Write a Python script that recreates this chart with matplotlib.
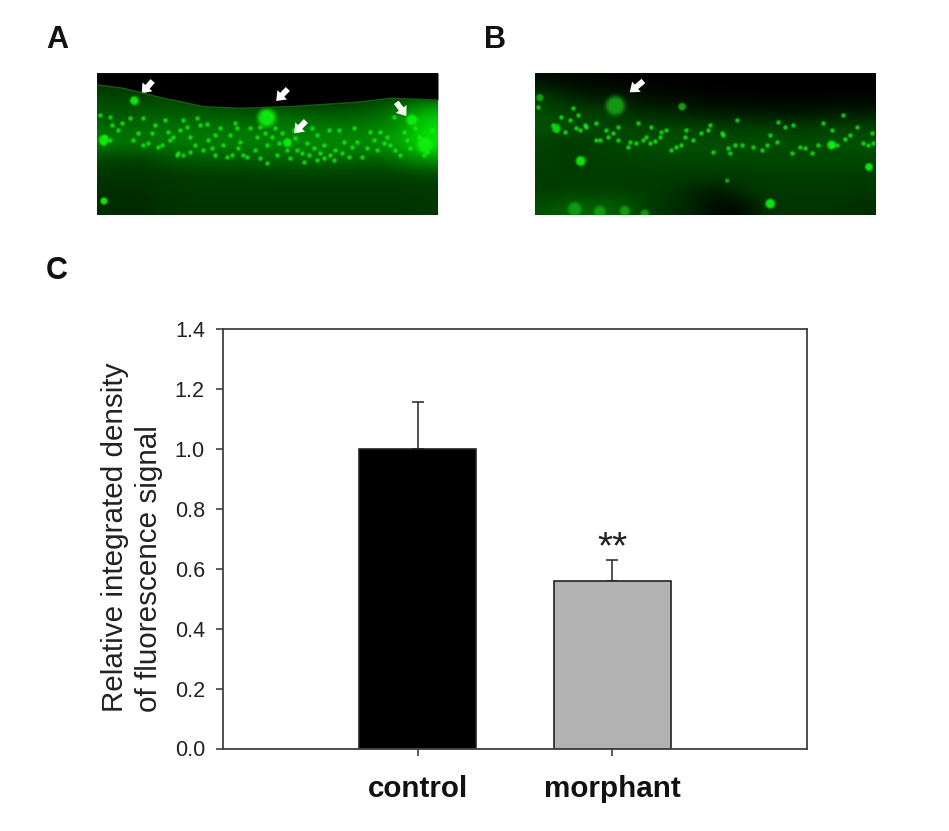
import numpy as np
from matplotlib import pyplot as plt
from matplotlib.colors import LinearSegmentedColormap
from matplotlib.patches import FancyArrow

plt.rcParams["font.family"] = ["Liberation Sans", "DejaVu Sans"]

# bar chart values
groups = ["control", "morphant"]
means = [1.0, 0.558]
errors = [0.157, 0.071]
bar_colors = ["black", "#b2b2b2"]
y_ticks = [0.0, 0.2, 0.4, 0.6, 0.8, 1.0, 1.2, 1.4]

# micrograph A, coarse green level per region
grid_a = [
    [45, 40, 30, 10, 0, 0, 0, 0, 0, 0, 0, 0, 0, 0],
    [70, 70, 70, 65, 55, 45, 35, 40, 40, 40, 45, 60, 70, 80],
    [85, 85, 90, 90, 90, 90, 75, 110, 90, 85, 90, 105, 130, 190],
    [105, 105, 115, 115, 115, 115, 115, 125, 125, 125, 120, 130, 150, 225],
    [130, 115, 125, 125, 125, 130, 130, 130, 140, 140, 140, 145, 175, 235],
    [60, 55, 70, 85, 90, 90, 90, 100, 100, 105, 100, 90, 115, 145],
    [55, 55, 55, 58, 58, 58, 58, 60, 60, 60, 60, 60, 60, 65],
    [45, 42, 50, 55, 55, 55, 55, 55, 55, 55, 55, 55, 55, 58],
    [45, 40, 48, 50, 50, 50, 50, 50, 50, 50, 50, 50, 50, 55],
]
edge_a_x = [21, 100, 200, 340, 450, 600, 800, 900, 1043]
edge_a_y = [60, 70, 95, 125, 130, 125, 112, 100, 105]
spots_a_x = [30, 60, 95, 65, 160, 225, 235, 280, 290, 330, 350, 300, 240, 160, 130, 60, 40, 265, 300, 340,
             355, 390, 420, 400, 450, 460, 440, 500, 530, 545, 510, 530, 560, 600, 640, 650, 680, 700, 720,
             745, 760, 790, 800, 830, 860, 870, 890, 910, 940, 960, 930, 700, 680, 470, 280, 260, 480, 620,
             670, 735, 775, 850, 900, 985, 1010, 575, 425, 365, 205, 185,
             45, 85, 120, 145, 175, 195, 215, 250, 270, 315, 320, 375, 410, 435, 495, 525, 555, 590, 615, 635,
             665, 690, 715, 730, 755, 785, 815, 840, 880, 915, 950, 975, 1000, 1025, 375, 445, 510, 565, 610, 655]
spots_a_y = [150, 155, 175, 180, 160, 165, 200, 165, 185, 180, 178, 215, 225, 240, 225, 225, 235, 265, 262,
             255, 225, 190, 210, 240, 230, 270, 190, 215, 240, 215, 280, 295, 270, 280, 290, 235, 210, 240,
             270, 195, 230, 190, 230, 250, 255, 200, 215, 155, 200, 250, 270, 280, 285, 275, 270, 270, 190,
             255, 250, 255, 275, 225, 240, 215, 260, 205, 270, 250, 245, 205,
             215, 195, 160, 205, 235, 180, 240, 215, 195, 240, 160, 270, 275, 175, 255, 205, 190, 255, 220, 265,
             190, 265, 195, 285, 265, 245, 275, 200, 235, 255, 225, 190, 270, 195, 210, 250, 185, 235, 195, 270]
blobs_a_x = [133, 530, 592, 965, 42, 42, 1005]
blobs_a_y = [107, 158, 233, 165, 225, 408, 240]
blobs_a_s = [45, 190, 45, 70, 60, 30, 150]
arrows_a = [(188, 48, 155, 85), (593, 72, 558, 108), (647, 168, 612, 205), (918, 112, 948, 153)]

# micrograph B
grid_b = [
    [12, 8, 5, 3, 0, 0, 0, 0, 0, 0, 0, 0, 0, 0],
    [60, 35, 25, 25, 15, 10, 6, 5, 3, 3, 3, 3, 3, 3],
    [75, 65, 70, 50, 40, 40, 30, 25, 25, 20, 20, 20, 25, 25],
    [85, 75, 72, 72, 70, 70, 70, 65, 65, 70, 60, 65, 70, 70],
    [62, 55, 62, 72, 78, 82, 82, 80, 80, 80, 80, 80, 82, 85],
    [65, 62, 65, 62, 65, 70, 70, 70, 70, 70, 70, 70, 70, 70],
    [60, 60, 60, 60, 60, 60, 60, 60, 60, 60, 60, 60, 60, 60],
    [60, 60, 60, 60, 60, 55, 38, 20, 50, 58, 58, 58, 58, 55],
    [80, 100, 100, 95, 65, 45, 35, 8, 5, 50, 50, 50, 50, 45],
]
spots_b_x = [35, 30, 75, 85, 100, 125, 150, 175, 155, 135, 85, 110, 145, 170, 205, 215, 240, 255, 270, 205,
             235, 305, 325, 345, 365, 380, 330, 355, 370, 400, 415, 445, 460, 475, 430, 495, 520, 545, 555,
             585, 600, 620, 605, 640, 675, 700, 715, 745, 750, 770, 795, 815, 790, 830, 870, 885, 910, 925,
             950, 965, 985, 1005, 1020, 1035, 1030, 945, 910, 850, 725, 540, 580, 625, 470, 300, 270, 395]
spots_b_y = [95, 125, 180, 195, 155, 165, 150, 185, 195, 130, 190, 200, 188, 180, 225, 225, 215, 205, 185,
             175, 195, 230, 235, 225, 235, 228, 175, 215, 185, 200, 195, 245, 240, 195, 255, 225, 205, 180,
             260, 210, 250, 240, 265, 240, 245, 255, 240, 230, 170, 185, 180, 245, 265, 250, 240, 175, 240,
             240, 222, 210, 185, 235, 240, 235, 205, 150, 195, 265, 210, 195, 205, 165, 215, 245, 225, 215]
blobs_b_x = [158, 262, 1022, 726, 597, 462, 910, 85, 140, 215, 290, 350, 35]
blobs_b_y = [288, 122, 306, 416, 347, 125, 240, 190, 432, 440, 438, 446, 98]
blobs_b_s = [55, 210, 35, 55, 12, 35, 45, 45, 110, 80, 60, 40, 30]
blob_levels = ["#10f010", "#18a018", "#10f010", "#10f010", "#20a020", "#20a020", "#10f010", "#10d010",
               "#10a010", "#10a010", "#10a010", "#10a010", "#10a010"]
arrows_b = [(346, 48, 305, 82)]

green_map = LinearSegmentedColormap.from_list("green", ["black", "#00ff00"])


def draw_micrograph(rect, grid, spots_x, spots_y, blobs_x, blobs_y, blobs_s, arrows, edge_x=None, edge_y=None,
                    levels="#10f010"):
    ax = fig.add_axes([rect[0] / W, 1 - rect[3] / H, (rect[2] - rect[0]) / W, (rect[3] - rect[1]) / H])
    ax.imshow(grid, cmap=green_map, vmin=0, vmax=255, extent=(21, 1043, 450, 24), aspect="auto",
              interpolation="bicubic")
    if edge_x is not None:
        ax.fill_between(edge_x, 24, edge_y, color="black", lw=0)
        ax.plot(edge_x, edge_y, color="#145c14", lw=1.1)
    # soft blobs and puncta, stacked so that they fade out at the rim
    for scale, alpha in [(1.6, 0.08), (1.3, 0.1), (1.0, 0.14), (0.75, 0.2), (0.5, 0.3), (0.25, 0.4)]:
        ax.scatter(spots_x, spots_y, s=14 * scale, color="#20f020", alpha=alpha, lw=0)
    for scale, alpha in [(1.5, 0.12), (1.2, 0.18), (0.95, 0.3), (0.7, 0.5), (0.45, 0.7)]:
        ax.scatter(blobs_x, blobs_y, s=np.array(blobs_s) * scale, color=levels, alpha=alpha, lw=0)
    for x0, y0, x1, y1 in arrows:
        ax.add_patch(FancyArrow(x0, y0, x1 - x0, y1 - y0, width=17, head_width=40, head_length=26,
                                length_includes_head=True, color="white", lw=0))
    ax.set_xlim(21, 1043)
    ax.set_ylim(450, 24)
    ax.axis("off")


W, H = 949, 831
fig = plt.figure(figsize=(9.49, 8.31), dpi=100)

draw_micrograph((97, 73, 438, 215), grid_a, spots_a_x, spots_a_y, blobs_a_x, blobs_a_y, blobs_a_s, arrows_a,
                edge_a_x, edge_a_y)
draw_micrograph((535, 73, 876, 215), grid_b, spots_b_x, spots_b_y, blobs_b_x, blobs_b_y, blobs_b_s, arrows_b,
                levels=blob_levels)

for letter, x, y in [("A", 46, 40), ("B", 484, 40), ("C", 46, 271)]:
    fig.text(x / W, 1 - y / H, letter, fontsize=22, fontweight="bold", ha="left", va="center", color="#111111")

ax = fig.add_axes([223 / W, 1 - 748.5 / H, 584 / W, 419.5 / H])
positions = [1, 2]
ax.bar(positions, means, width=0.6, color=bar_colors, edgecolor="#222222", linewidth=1.2, zorder=2)
ax.errorbar(positions, means, yerr=[[0, 0], errors], fmt="none", ecolor="#222222", elinewidth=1.1,
            capsize=4.4, capthick=1.1, zorder=1)
ax.set_xlim(0, 3)
ax.set_ylim(0, 1.4)
ax.set_yticks(y_ticks)
ax.set_yticklabels([f"{t:.1f}" for t in y_ticks], fontsize=15.6, color="#222222")
ax.set_xticks(positions)
ax.set_xticklabels(groups, fontsize=21.3, fontweight="bold", color="#111111")
ax.tick_params(axis="y", length=5, width=1.2, color="#404040", pad=8)
ax.tick_params(axis="x", length=5, width=1.2, color="#404040", pad=14)
for spine in ax.spines.values():
    spine.set_color("#404040")
    spine.set_linewidth(1.3)

ax.text(2, 0.668, "**", fontsize=28, ha="center", va="center", color="#222222")

fig.text(115 / W, 1 - 712 / H, "Relative integrated density", fontsize=21.3, rotation=90, ha="center", va="bottom",
         color="#222222")
fig.text(149 / W, 1 - 712 / H, "of fluorescence signal", fontsize=21.3, rotation=90, ha="center", va="bottom",
         color="#222222")

plt.savefig("out.png", dpi=100)
